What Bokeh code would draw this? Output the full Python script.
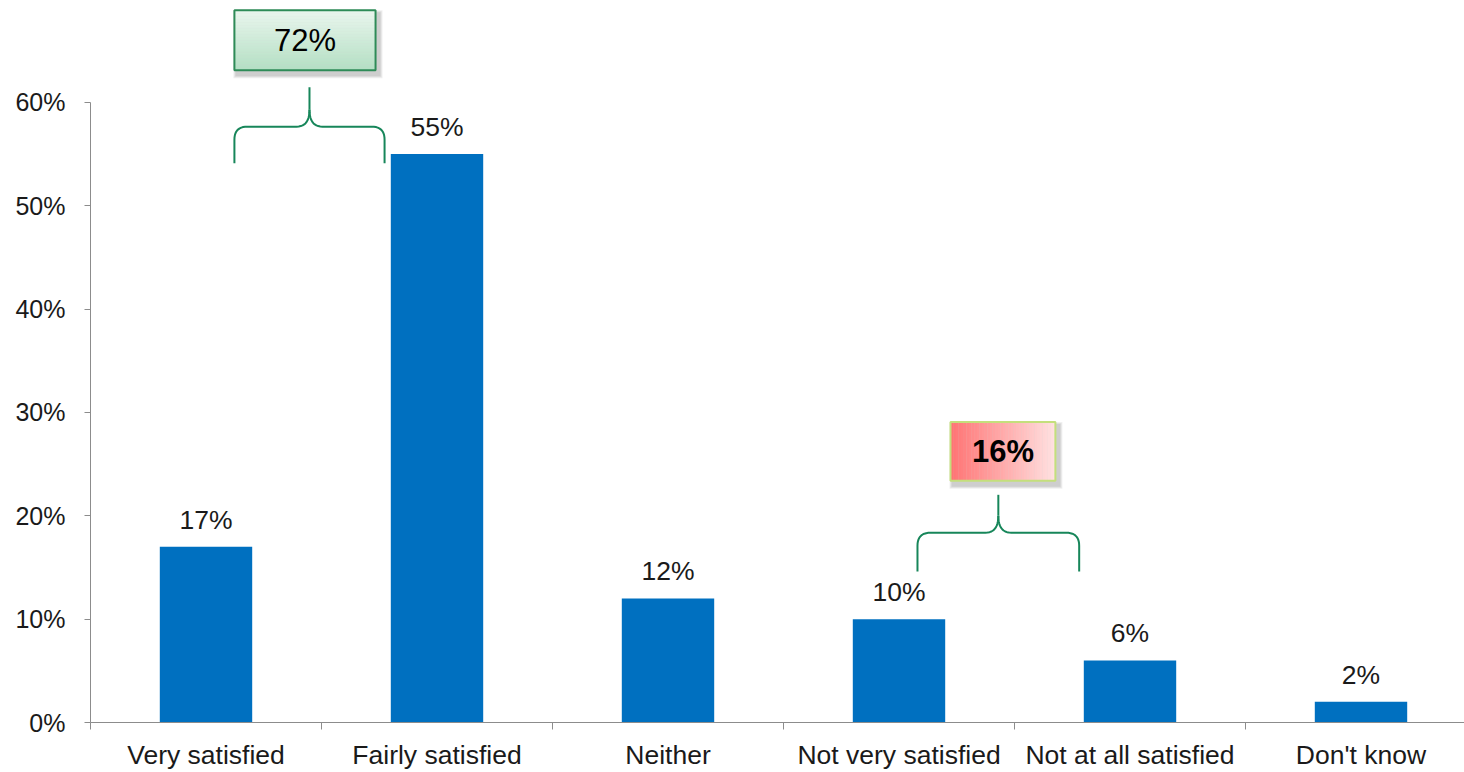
import numpy as np
from bokeh.plotting import figure
from bokeh.models import ColumnDataSource, FixedTicker, NumeralTickFormatter, Range1d
from bokeh.core.properties import value
from bokeh.embed import file_html
from bokeh.resources import INLINE

categories = ["Very satisfied", "Fairly satisfied", "Neither", "Not very satisfied",
              "Not at all satisfied", "Don't know"]
values = [0.17, 0.55, 0.12, 0.10, 0.06, 0.02]
value_labels = ["17%", "55%", "12%", "10%", "6%", "2%"]
y_ticks = [0.0, 0.1, 0.2, 0.3, 0.4, 0.5, 0.6]
net_satisfied = "72%"
net_dissatisfied = "16%"

FONT = "Liberation Sans"
BAR = "#0070c0"
GREEN = "#17865a"

W, H = 1464, 772
LB, BB = 90, 49
frame_w = W - LB
frame_h = H - BB
PX = 231.0          # pixels per category
PY = 1035.0         # pixels per unit of y
x0 = -0.5
x1 = x0 + frame_w / PX
y1 = frame_h / PY

p = figure(width=W, height=H, output_backend="svg", toolbar_location=None,
           x_range=Range1d(x0, x1), y_range=Range1d(0, y1),
           min_border_left=LB, min_border_right=0, min_border_top=0, min_border_bottom=BB)
p.outline_line_color = None
p.xgrid.visible = False
p.ygrid.visible = False
p.background_fill_color = "white"
p.border_fill_color = "white"

xs = list(range(len(categories)))
src = ColumnDataSource(dict(x=xs, top=values, lab=value_labels))
p.vbar(x="x", top="top", bottom=0, width=0.4, source=src, fill_color=BAR, line_color=None)
p.text(x="x", y="top", text="lab", source=src, text_align="center", text_baseline="bottom",
       y_offset=-12, text_font=value(FONT), text_font_size="26.5px", text_color="#1a1a1a")

# axes
ya = p.yaxis[0]
ya.ticker = FixedTicker(ticks=y_ticks)
ya.formatter = NumeralTickFormatter(format="0%")
ya.bounds = (0, 0.6)
ya.axis_line_color = "#8c8c8c"
ya.major_tick_line_color = "#8c8c8c"
ya.major_tick_out = 6
ya.major_tick_in = 0
ya.minor_tick_line_color = None
ya.major_label_text_font = FONT
ya.major_label_text_font_size = "25px"
ya.major_label_text_color = "#1a1a1a"
ya.major_label_standoff = 19

xa = p.xaxis[0]
xa.ticker = FixedTicker(ticks=xs, minor_ticks=[i - 0.5 for i in range(len(categories) + 1)])
xa.major_label_overrides = {i: c for i, c in enumerate(categories)}
xa.axis_line_color = "#8c8c8c"
xa.major_tick_line_color = None
xa.major_tick_out = 0
xa.major_tick_in = 0
xa.minor_tick_line_color = "#8c8c8c"
xa.minor_tick_out = 7
xa.minor_tick_in = 0
xa.major_label_text_font = FONT
xa.major_label_text_font_size = "26.5px"
xa.major_label_text_color = "#1a1a1a"
xa.major_label_standoff = 10


def brace(xl, xr, yb, yh, yp):
    rx, ry = 13 / PX, 13 / PY
    xm = (xl + xr) / 2
    t = np.linspace(0, 1, 12)

    def quad(a, c, b):
        a, c, b = map(np.array, (a, c, b))
        return ((1 - t)[:, None] ** 2 * a + 2 * (1 - t)[:, None] * t[:, None] * c + t[:, None] ** 2 * b)

    left = np.vstack([np.array([[xl, yb]]),
                      quad((xl, yh - ry), (xl, yh), (xl + rx, yh)),
                      quad((xm - rx, yh), (xm, yh), (xm, yh + 1.3 * ry))])
    right = np.vstack([quad((xm, yh + 1.3 * ry), (xm, yh), (xm + rx, yh)),
                       quad((xr - rx, yh), (xr, yh), (xr, yh - ry)),
                       np.array([[xr, yb]])])
    p.line(left[:, 0], left[:, 1], line_color=GREEN, line_width=2)
    p.line([xm, xm], [yh + 1.3 * ry, yp], line_color=GREEN, line_width=2)
    p.line(right[:, 0], right[:, 1], line_color=GREEN, line_width=2)


def box(xl, xr, yb, yt, colors, horizontal, border, label, bold):
    # soft shadow
    for k, a in enumerate([0.10, 0.12, 0.15]):
        d = 3 - k
        p.quad(left=xl + (2 - d) / PX, right=xr + (4 + d) / PX, bottom=yb - (5 + d) / PY,
               top=yt - (3 - d) / PY, fill_color="#6f6f6f", fill_alpha=a, line_color=None)
    n = 40
    c0 = np.array([int(colors[0][i:i + 2], 16) for i in (1, 3, 5)])
    c1 = np.array([int(colors[1][i:i + 2], 16) for i in (1, 3, 5)])
    for k in range(n):
        f = (k + 0.5) / n
        c = c0 * (1 - f) + c1 * f
        col = "#%02x%02x%02x" % tuple(int(round(v)) for v in c)
        if horizontal:
            a = xl + (xr - xl) * k / n
            b = xl + (xr - xl) * (k + 1) / n + 0.3 / PX
            p.quad(left=a, right=b, bottom=yb, top=yt, fill_color=col, line_color=None)
        else:
            a = yt - (yt - yb) * k / n
            b = yt - (yt - yb) * (k + 1) / n - 0.3 / PY
            p.quad(left=xl, right=xr, bottom=b, top=a, fill_color=col, line_color=None)
    p.quad(left=xl, right=xr, bottom=yb, top=yt, fill_color=None, line_color=border, line_width=2)
    p.text(x=[(xl + xr) / 2], y=[(yb + yt) / 2], text=[label], text_align="center",
           text_baseline="middle", text_font=value(FONT), text_font_size="31px",
           text_font_style="bold" if bold else "normal", text_color="black")


# net satisfied: spans bars 0 and 1
brace(0.123, 0.773, values[1] - 0.009, values[1] + 0.0265, values[1] + 0.0645)
box(0.123, 0.734, 0.631, 0.689, ("#eaf6ee", "#b3dfc3"), False, "#2e8b57", net_satisfied, False)

# net dissatisfied: spans bars 3 and 4
brace(3.08, 3.78, 0.146, 0.1836, 0.2203)
box(3.223, 3.677, 0.2338, 0.2908, ("#ff7373", "#ffe2e2"), True, "#c4df7c", net_dissatisfied, True)

open("out.html", "w").write(file_html(p, INLINE))
